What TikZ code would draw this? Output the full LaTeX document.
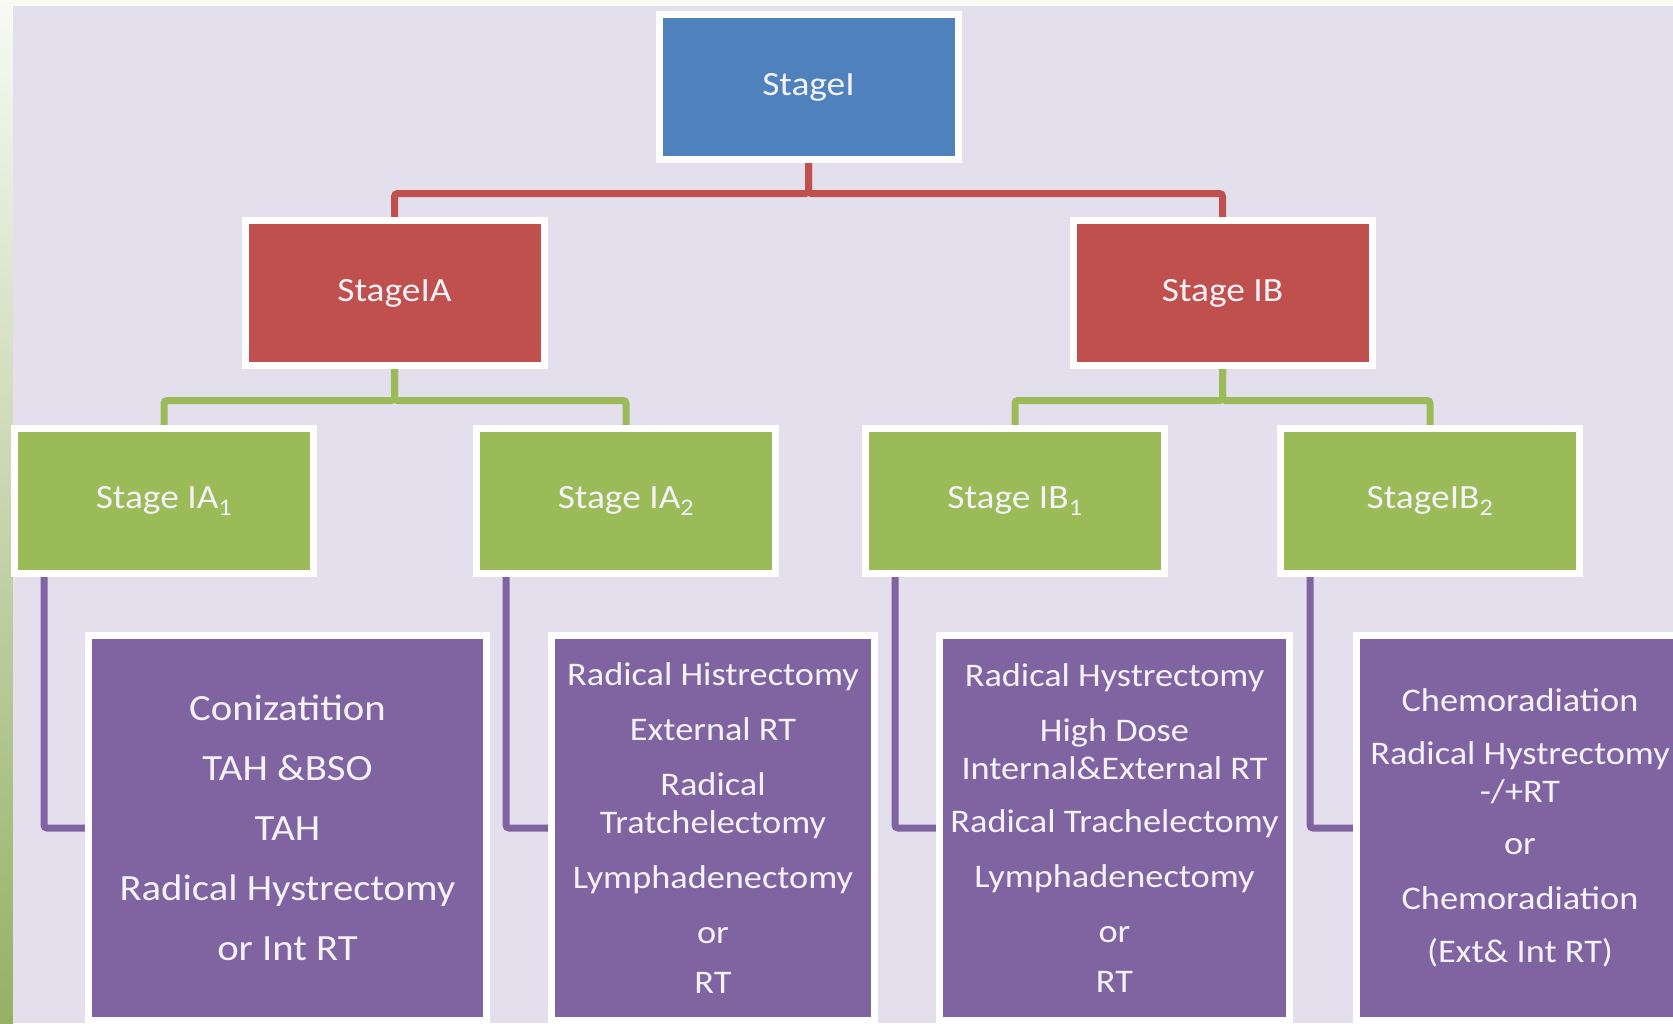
\documentclass[tikz,border=0pt]{standalone}
\usepackage{fontspec}
\setmainfont[FakeStretch=1.1]{Carlito}
\usetikzlibrary{positioning, calc, backgrounds}
\definecolor{stageblue}{RGB}{79,129,189}
\definecolor{stagered}{RGB}{192,80,77}
\definecolor{stagegreen}{RGB}{155,187,89}
\definecolor{treatpurple}{RGB}{128,100,162}
\definecolor{slidelilac}{RGB}{228,223,236}
\definecolor{slideedge}{RGB}{248,250,244}
\definecolor{edgegreen}{RGB}{150,176,102}
\definecolor{boxtext}{RGB}{244,242,248}

\begin{document}
\begin{tikzpicture}[x=1pt, y=-1pt,
  box/.style={draw=white, line width=7pt, minimum width=299pt,
              minimum height=145pt, inner sep=0pt, text=boxtext,
              font=\fontsize{34}{40}\selectfont},
  topbox/.style={box, fill=stageblue},
  midbox/.style={box, fill=stagered},
  subbox/.style={box, fill=stagegreen},
  treatbox/.style={draw=white, line width=7pt, fill=treatpurple,
                   minimum height=385pt, inner sep=0pt, align=center,
                   text=boxtext, font=\fontsize{33}{38}\selectfont},
  redlink/.style={draw=stagered, line width=7pt, rounded corners=3pt},
  greenlink/.style={draw=stagegreen, line width=7pt, rounded corners=3pt},
  purplelink/.style={draw=treatpurple, line width=7pt, rounded corners=3pt}
]
\useasboundingbox (0,0) rectangle (1673,1023);

%--- Slide backdrop ---
\begin{scope}[on background layer]
  \fill[slideedge] (0,0) rectangle (1673,1023);
  \shade[top color=slideedge, middle color=slideedge, bottom color=edgegreen]
    (0,0) rectangle (13,1023);
  \fill[slidelilac] (13,6) rectangle (1673,1023);
\end{scope}

%--- Stages ---
\node[topbox] (si)  at (808.5,87)  {StageI};
\node[midbox] (sia) at (394.5,293) {StageIA};
\node[midbox] (sib) at (1222.5,293) {Stage IB};
\node[subbox] (ia1) at (164,501)  {Stage IA\textsubscript{1}};
\node[subbox] (ia2) at (626,501)  {Stage IA\textsubscript{2}};
\node[subbox] (ib1) at (1015,501) {Stage IB\textsubscript{1}};
\node[subbox] (ib2) at (1430,501) {StageIB\textsubscript{2}};

%--- Treatments ---
\node[treatbox, minimum width=398pt, font=\fontsize{37}{44}\selectfont]
  (tia1) at (287.5,828)
  {Conizatition\\[16pt]TAH \&BSO\\[16pt]TAH\\[16pt]Radical Hystrectomy\\[16pt]or Int RT};
\node[treatbox, minimum width=323pt] (tia2) at (713,828)
  {Radical Histrectomy\\[17pt]External RT\\[17pt]Radical\\Tratchelectomy\\[17pt]Lymphadenectomy\\[17pt]or\\[12pt]RT};
\node[treatbox, minimum width=350pt] (tib1) at (1114.5,828)
  {Radical Hystrectomy\\[17pt]High Dose\\Internal\&External RT\\[15pt]Radical Trachelectomy\\[17pt]Lymphadenectomy\\[17pt]or\\[12pt]RT};
\node[treatbox, minimum width=327pt] (tib2) at (1520,828)
  {Chemoradiation\\[15pt]Radical Hystrectomy\\-/+RT\\[14pt]or\\[17pt]Chemoradiation\\[15pt](Ext\& Int RT)};

%--- Links ---
\begin{scope}[on background layer]
  \draw[redlink] (si.south) -- ++(0,30.5) -| (sia.north);
  \draw[redlink] (si.south) -- ++(0,30.5) -| (sib.north);
  \draw[greenlink] (sia.south) -- ++(0,31.5) -| (ia1.north);
  \draw[greenlink] (sia.south) -- ++(0,31.5) -| (ia2.north);
  \draw[greenlink] (sib.south) -- ++(0,31.5) -| (ib1.north);
  \draw[greenlink] (sib.south) -- ++(0,31.5) -| (ib2.north);
  \draw[purplelink] ([xshift=33pt]ia1.south west) |- (tia1.west);
  \draw[purplelink] ([xshift=33pt]ia2.south west) |- (tia2.west);
  \draw[purplelink] ([xshift=33pt]ib1.south west) |- (tib1.west);
  \draw[purplelink] ([xshift=33pt]ib2.south west) |- (tib2.west);
\end{scope}

\end{tikzpicture}
\end{document}
